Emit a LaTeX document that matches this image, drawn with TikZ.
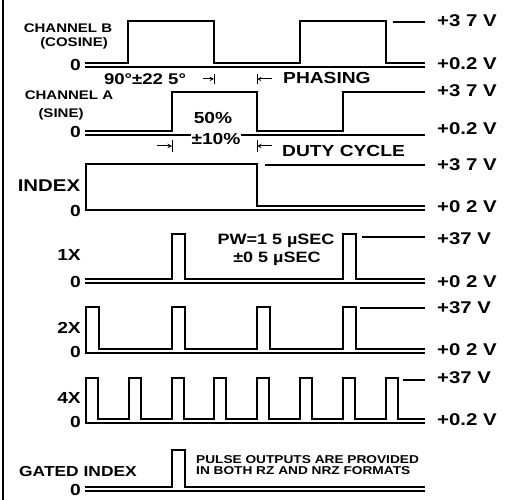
\documentclass[tikz,border=0pt]{standalone}
\usepackage{fontspec}
\setmainfont{Liberation Sans}[FakeStretch=1.2]
\usepackage{tikz}

\tikzset{
  wave/.style={black,line width=1.7pt,line join=miter},
  refline/.style={black,line width=1.1pt},
  tick/.style={black,line width=1pt},
  volt/.style={anchor=west,inner sep=0pt,font=\fontsize{17}{17}\selectfont\bfseries},
  zero/.style={anchor=east,inner sep=0pt,font=\fontsize{16}{16}\selectfont\bfseries},
  sig/.style={inner sep=0pt,font=\fontsize{16}{16}\selectfont\bfseries},
  chan/.style={inner sep=0pt,font=\fontsize{12.5}{12.5}\selectfont\bfseries},
  note/.style={inner sep=0pt,font=\fontsize{15.5}{15.5}\selectfont\bfseries}
}

\begin{document}
\begin{tikzpicture}[x=1pt,y=-1pt]
\useasboundingbox (0,0) rectangle (509,500);

\draw[black,line width=1.4pt] (3,0) -- (3,500);

% channel B
\node[chan] (chb) at (68,28) {CHANNEL B};
\node[chan] (cos) at (74,43) {(COSINE)};
\node[zero] (zb) at (81,65) {0};
\draw[wave] (85,63) -- (128,63) -- (128,21) -- (214,21) -- (214,63) -- (300,63)
  -- (300,21) -- (386,21) -- (386,63) -- (425,63);
\draw[refline] (85,67) -- (425,67);
\draw[refline] (393,22) -- (425,22);
\node[volt] (vbh) at (437,21) {+3 7 V};
\node[volt] (vbl) at (437,64) {+0.2 V};

% phasing
\node[note] (ph) at (145,79) {90°±22 5°};
\coordinate (pa) at (214,79);
\coordinate (pb) at (257,79);
\draw[tick] ([yshift=-5]pa) -- ([yshift=5]pa);
\draw[tick] ([yshift=-5]pb) -- ([yshift=5]pb);
\draw[tick,->,>=stealth] ([xshift=-11]pa) -- (pa);
\draw[tick,->,>=stealth] ([xshift=15]pb) -- (pb);
\node[sig,anchor=west] (phs) at (283,78) {PHASING};

% channel A
\node[chan] (cha) at (69,95) {CHANNEL A};
\node[chan] (sin) at (61,114) {(SINE)};
\node[zero] (za) at (81,132) {0};
\draw[wave] (85,131) -- (172,131) -- (172,92) -- (257,92) -- (257,131) -- (343,131)
  -- (343,92) -- (425,92);
\draw[refline] (85,135) -- (425,135);
\node[sig] (dc1) at (213,118) {50\%};
\node[sig,fill=white,inner xsep=1pt] (dc2) at (216,139) {±10\%};
\coordinate (da) at (172,146);
\coordinate (db) at (257,146);
\draw[tick] ([yshift=-6]da) -- ([yshift=6]da);
\draw[tick] ([yshift=-6]db) -- ([yshift=6]db);
\draw[tick,->,>=stealth] ([xshift=-15]da) -- (da);
\draw[tick,->,>=stealth] ([xshift=15]db) -- (db);
\node[sig,anchor=west] (duty) at (282,151) {DUTY CYCLE};
\node[volt] (vah) at (437,91) {+3 7 V};
\node[volt] (val) at (437,129) {+0.2 V};

% index
\node[sig,font=\fontsize{17}{17}\selectfont\bfseries] (idx) at (49,186) {INDEX};
\node[zero] (zi) at (81,211) {0};
\draw[wave] (86,210) -- (86,164) -- (257,164) -- (257,206) -- (425,206);
\draw[refline] (85,210) -- (425,210);
\draw[refline] (265,165) -- (425,165);
\node[volt] (vih) at (437,165) {+3 7 V};
\node[volt] (vil) at (437,207) {+0 2 V};

% 1X
\node[zero] (l1) at (81,255) {1X};
\node[zero] (z1) at (81,282) {0};
\draw[wave] (85,279) -- (172,279) -- (172,234) -- (185,234) -- (185,279) -- (343,279)
  -- (343,234) -- (356,234) -- (356,279) -- (425,279);
\draw[refline] (85,283) -- (425,283);
\draw[refline] (362,237) -- (425,237);
\node[sig,font=\fontsize{15}{15}\selectfont\bfseries] (pw1) at (276,241) {PW=1 5 µSEC};
\node[sig,font=\fontsize{15}{15}\selectfont\bfseries] (pw2) at (277,259) {±0 5 µSEC};
\node[volt] (v1h) at (437,239) {+37 V};
\node[volt] (v1l) at (437,282) {+0 2 V};

% 2X
\node[zero] (l2) at (81,328) {2X};
\node[zero] (z2) at (81,352) {0};
\draw[wave] (86,352) -- (86,307) -- (99,307) -- (99,349) -- (172,349) -- (172,307)
  -- (185,307) -- (185,349) -- (257,349) -- (257,307) -- (270,307) -- (270,349)
  -- (343,349) -- (343,307) -- (356,307) -- (356,349) -- (425,349);
\draw[refline] (85,353) -- (425,353);
\draw[refline] (360,308) -- (425,308);
\node[volt] (v2h) at (437,308) {+37 V};
\node[volt] (v2l) at (437,350) {+0 2 V};

% 4X
\node[zero] (l4) at (81,398) {4X};
\node[zero] (z4) at (81,422) {0};
\draw[wave] (86,422) -- (86,378) -- (98,378) -- (98,419) -- (129,419) -- (129,378)
  -- (141,378) -- (141,419) -- (172,419) -- (172,378) -- (184,378) -- (184,419)
  -- (214,419) -- (214,378) -- (226,378) -- (226,419) -- (257,419) -- (257,378)
  -- (269,378) -- (269,419) -- (300,419) -- (300,378) -- (312,378) -- (312,419)
  -- (343,419) -- (343,378) -- (355,378) -- (355,419) -- (386,419) -- (386,378)
  -- (398,378) -- (398,419) -- (425,419);
\draw[refline] (85,423) -- (425,423);
\draw[refline] (403,380) -- (425,380);
\node[volt] (v4h) at (437,378) {+37 V};
\node[volt] (v4l) at (437,420) {+0.2 V};

% gated index
\node[sig,font=\fontsize{14.5}{14.5}\selectfont\bfseries] (gi) at (78,472) {GATED INDEX};
\node[zero] (zg) at (81,490) {0};
\draw[wave] (85,487) -- (172,487) -- (172,450) -- (185,450) -- (185,487) -- (425,487);
\draw[refline] (85,491) -- (425,491);
\node[inner sep=0pt,anchor=west,align=left,font=\fontsize{11.4}{11}\selectfont\bfseries]
  (rz) at (196,465) {PULSE OUTPUTS ARE PROVIDED\\IN BOTH RZ AND NRZ FORMATS};

\end{tikzpicture}
\end{document}
